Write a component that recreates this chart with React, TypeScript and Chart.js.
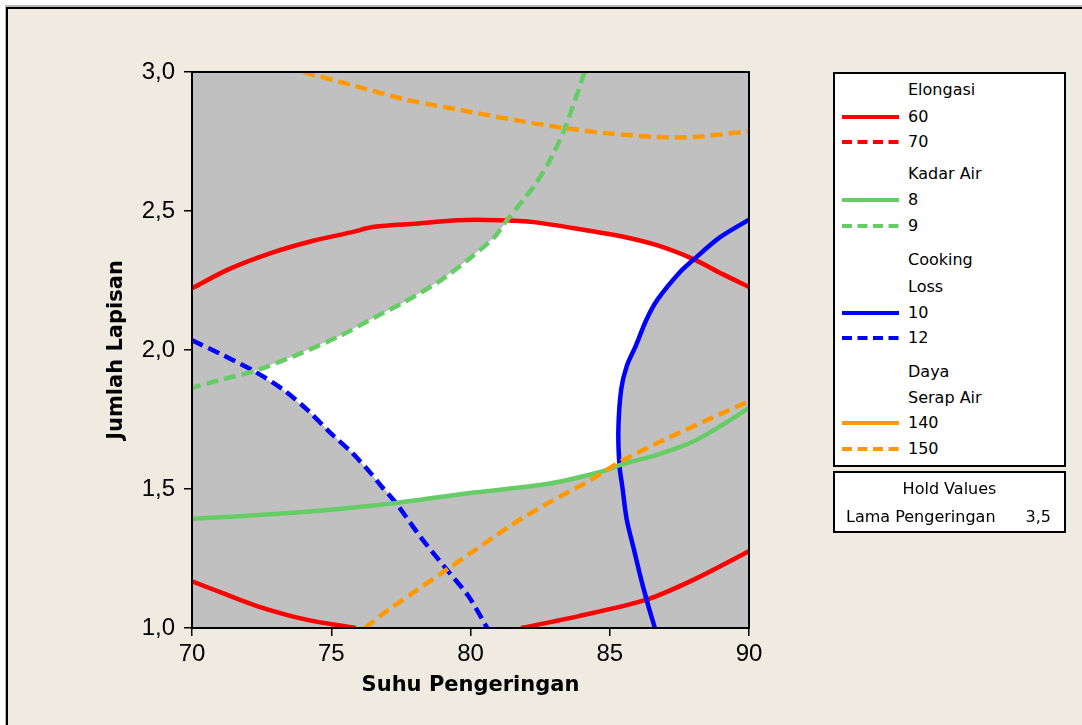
import React, { useEffect, useRef } from "react";
import { Chart, registerables } from "chart.js";

Chart.register(...registerables);

// ---- Data ----
const xTicks = [70, 75, 80, 85, 90];
const yTicks = [1.0, 1.5, 2.0, 2.5, 3.0];

// Elongasi = 60 (solid red), three branches
const elong60UpperX = [70, 71.31, 72.88, 74.32, 75.75, 76.54, 78.1, 79.54, 80.97, 82.28, 84.37, 85.41, 86.72, 88.02, 89.07, 90];
const elong60UpperY = [2.222, 2.29, 2.35, 2.392, 2.424, 2.443, 2.455, 2.467, 2.467, 2.46, 2.427, 2.409, 2.376, 2.326, 2.272, 2.227];
const elong60LeftX = [70, 71.06, 72.36, 74.06, 75.88];
const elong60LeftY = [1.168, 1.127, 1.078, 1.031, 1.0];
const elong60RightX = [81.82, 83.85, 86.32, 88.02, 90];
const elong60RightY = [1.0, 1.042, 1.102, 1.174, 1.276];

// Kadar Air = 8 (solid green), = 9 (dashed green)
const kadar8X = [70, 71.71, 74.32, 77.32, 80.19, 82.8, 84.76, 85.41, 86.72, 88.02, 89.07, 90];
const kadar8Y = [1.393, 1.402, 1.42, 1.45, 1.488, 1.519, 1.564, 1.588, 1.624, 1.672, 1.732, 1.792];
const kadar9X = [84.1, 83.72, 83.32, 82.8, 82.28, 81.9, 81.24, 80.84, 79.93, 78.89, 77.58, 76.54, 75.3, 73.66, 72.23, 71.06, 70];
const kadar9Y = [3.0, 2.889, 2.781, 2.673, 2.589, 2.541, 2.458, 2.404, 2.326, 2.248, 2.17, 2.116, 2.05, 1.978, 1.924, 1.894, 1.864];

// Cooking Loss = 10 (solid blue), = 12 (dashed blue)
const cook10X = [90, 88.94, 88.02, 87.5, 86.72, 86.32, 85.93, 85.61, 85.41, 85.31, 85.35, 85.45, 85.61, 85.87, 86.13, 86.39, 86.62];
const cook10Y = [2.469, 2.404, 2.326, 2.278, 2.182, 2.11, 2.014, 1.942, 1.858, 1.714, 1.582, 1.51, 1.39, 1.282, 1.174, 1.078, 1.0];
const cook12X = [70, 71.06, 72.23, 73.27, 74.19, 74.97, 75.75, 76.41, 76.8, 77.32, 78.23, 79.15, 79.93, 80.6];
const cook12Y = [2.035, 1.984, 1.924, 1.858, 1.78, 1.702, 1.63, 1.558, 1.51, 1.45, 1.324, 1.21, 1.114, 1.0];

// Daya Serap Air = 150 (dashed orange), two branches
const daya150UpperX = [74.0, 75.88, 77.58, 79.54, 81.5, 83.32, 84.76, 86.72, 88.02, 90];
const daya150UpperY = [3.0, 2.949, 2.903, 2.865, 2.829, 2.799, 2.781, 2.766, 2.766, 2.787];
const daya150LowerX = [76.21, 77.06, 78.1, 79.15, 80.19, 81.5, 82.8, 84.24, 85.41, 86.98, 88.54, 90];
const daya150LowerY = [1.0, 1.066, 1.138, 1.21, 1.282, 1.372, 1.45, 1.528, 1.6, 1.678, 1.75, 1.816];

// Feasible (white) region boundary
const feasibleX = [72.23, 73.66, 75.3, 76.54, 77.58, 78.89, 79.93, 80.84, 81.3, 82.28, 84.37, 85.41, 86.72, 88.04, 87.5, 86.72, 86.32, 85.93, 85.61, 85.41, 85.31, 85.36, 84.76, 82.8, 80.19, 77.35, 76.8, 76.41, 75.75, 74.97, 74.19, 73.27];
const feasibleY = [1.924, 1.978, 2.05, 2.116, 2.17, 2.248, 2.326, 2.404, 2.462, 2.46, 2.427, 2.409, 2.376, 2.326, 2.278, 2.182, 2.11, 2.014, 1.942, 1.858, 1.714, 1.588, 1.564, 1.519, 1.488, 1.452, 1.51, 1.558, 1.63, 1.702, 1.78, 1.858];

const RED = "#ff0000";
const GREEN = "#66cc66";
const BLUE = "#0000ff";
const ORANGE = "#ff9900";
const DASH = [12, 6];

type LegendRow = { kind: "head" | "line"; text: string; color?: string; dashed?: boolean; y: number };
const legendRows: LegendRow[] = [
  { kind: "head", text: "Elongasi", y: 90 },
  { kind: "line", text: "60", color: RED, dashed: false, y: 116.7 },
  { kind: "line", text: "70", color: RED, dashed: true, y: 141.7 },
  { kind: "head", text: "Kadar Air", y: 174 },
  { kind: "line", text: "8", color: GREEN, dashed: false, y: 200 },
  { kind: "line", text: "9", color: GREEN, dashed: true, y: 226 },
  { kind: "head", text: "Cooking", y: 260 },
  { kind: "head", text: "Loss", y: 286.7 },
  { kind: "line", text: "10", color: BLUE, dashed: false, y: 313.3 },
  { kind: "line", text: "12", color: BLUE, dashed: true, y: 338.3 },
  { kind: "head", text: "Daya", y: 371.7 },
  { kind: "head", text: "Serap Air", y: 397.7 },
  { kind: "line", text: "140", color: ORANGE, dashed: false, y: 423.3 },
  { kind: "line", text: "150", color: ORANGE, dashed: true, y: 449.3 },
];

function pts(xs: number[], ys: number[]) {
  return xs.map((x, i) => ({ x, y: ys[i] }));
}

function curve(xs: number[], ys: number[], color: string, dashed: boolean) {
  return {
    data: pts(xs, ys),
    borderColor: color,
    borderWidth: 4.5,
    borderDash: dashed ? DASH : [],
    pointRadius: 0,
    tension: 0.3,
    fill: false,
    order: 0,
    borderCapStyle: "butt" as const,
  };
}

const plotBg = {
  id: "plotBg",
  beforeDraw(chart: any) {
    const { ctx, chartArea: a } = chart;
    ctx.save();
    ctx.fillStyle = "#c0c0c0";
    ctx.fillRect(a.left, a.top, a.right - a.left, a.bottom - a.top);
    ctx.restore();
  },
  afterDraw(chart: any) {
    const { ctx, chartArea: a } = chart;
    ctx.save();
    ctx.strokeStyle = "#000";
    ctx.lineWidth = 2;
    ctx.strokeRect(a.left, a.top, a.right - a.left, a.bottom - a.top);
    ctx.restore();
  },
};

const FONT = "'DejaVu Sans', Verdana, sans-serif";
const TICK_FONT = "'Liberation Sans', Arial, sans-serif";

export default function App() {
  const ref = useRef<HTMLCanvasElement | null>(null);

  useEffect(() => {
    if (!ref.current) return;
    const chart = new Chart(ref.current, {
      type: "line",
      data: {
        datasets: [
          {
            data: pts(feasibleX, feasibleY),
            borderColor: "rgba(0,0,0,0)",
            borderWidth: 0,
            backgroundColor: "#ffffff",
            pointRadius: 0,
            tension: 0,
            fill: "shape",
            order: 10,
          } as any,
          curve(daya150UpperX, daya150UpperY, ORANGE, true),
          curve(daya150LowerX, daya150LowerY, ORANGE, true),
          curve(kadar8X, kadar8Y, GREEN, false),
          curve(kadar9X, kadar9Y, GREEN, true),
          curve(cook12X, cook12Y, BLUE, true),
          curve(cook10X, cook10Y, BLUE, false),
          curve(elong60UpperX, elong60UpperY, RED, false),
          curve(elong60LeftX, elong60LeftY, RED, false),
          curve(elong60RightX, elong60RightY, RED, false),
        ],
      },
      options: {
        responsive: false,
        animation: false,
        layout: { padding: { left: 0, top: 72, right: 1082 - 749, bottom: 0 } },
        plugins: { legend: { display: false }, tooltip: { enabled: false } },
        scales: {
          x: {
            type: "linear",
            min: 70,
            max: 90,
            afterBuildTicks: (s: any) => {
              s.ticks = xTicks.map((v) => ({ value: v }));
            },
            afterFit: (s: any) => {
              s.height = 725 - 628;
            },
            grid: { drawOnChartArea: false, drawTicks: true, tickLength: 8, color: "#000", lineWidth: 1.5 },
            border: { display: false },
            ticks: {
              color: "#000",
              padding: 4,
              font: { family: TICK_FONT, size: 24 },
              callback: (v: any) => String(v),
            },
            title: {
              display: true,
              text: "Suhu Pengeringan",
              color: "#000",
              font: { family: FONT, size: 21, weight: "bold" },
              padding: { top: 0, bottom: 27 },
            },
          },
          y: {
            type: "linear",
            min: 1,
            max: 3,
            afterBuildTicks: (s: any) => {
              s.ticks = yTicks.map((v) => ({ value: v }));
            },
            afterFit: (s: any) => {
              s.width = 192;
            },
            grid: { drawOnChartArea: false, drawTicks: true, tickLength: 8, color: "#000", lineWidth: 1.5 },
            border: { display: false },
            ticks: {
              color: "#000",
              padding: 9,
              font: { family: TICK_FONT, size: 24 },
              callback: (v: any) => Number(v).toFixed(1).replace(".", ","),
            },
            title: {
              display: true,
              text: "Jumlah Lapisan",
              color: "#000",
              font: { family: FONT, size: 21, weight: "bold" },
              padding: { top: 104, bottom: 0 },
            },
          },
        },
      },
      plugins: [plotBg],
    } as any);
    return () => chart.destroy();
  }, []);

  const txt: React.CSSProperties = {
    position: "absolute",
    fontFamily: FONT,
    fontSize: 16,
    color: "#000",
    lineHeight: "20px",
    whiteSpace: "nowrap",
    transform: "translateY(-50%)",
  };

  return (
    <div style={{ position: "absolute", left: 0, top: 0, width: 1082, height: 725, background: "#ffffff", overflow: "hidden" }}>
      <div style={{ position: "absolute", left: 5, top: 5, width: 1077, height: 720, background: "#b8b8b8" }} />
      <div style={{ position: "absolute", left: 6, top: 7, width: 1076, height: 718, background: "#000" }} />
      <div style={{ position: "absolute", left: 8, top: 9, width: 1074, height: 716, background: "#efebe0" }} />
      <canvas ref={ref} width={1082} height={725} style={{ position: "absolute", left: 0, top: 0 }} />
      <div style={{ position: "absolute", left: 833, top: 72, width: 229, height: 391, border: "2px solid #000", background: "#fff" }} />
      {legendRows.map((r, i) => (
        <React.Fragment key={i}>
          {r.kind === "line" && (
            <svg style={{ position: "absolute", left: 842, top: r.y - 4, width: 58, height: 8 }} width={58} height={8}>
              <line
                x1={0}
                y1={4}
                x2={57}
                y2={4}
                stroke={r.color}
                strokeWidth={4}
                strokeDasharray={r.dashed ? "10 5.5" : undefined}
              />
            </svg>
          )}
          <div style={{ ...txt, left: 908, top: r.y }}>{r.text}</div>
        </React.Fragment>
      ))}
      <div style={{ position: "absolute", left: 833, top: 471, width: 229, height: 58, border: "2px solid #000", background: "#fff" }} />
      <div style={{ ...txt, left: 835, width: 229, textAlign: "center", top: 489.3 }}>Hold Values</div>
      <div style={{ ...txt, left: 846, top: 516.7 }}>Lama Pengeringan</div>
      <div style={{ ...txt, left: 1000, width: 51, textAlign: "right", top: 516.7 }}>3,5</div>
    </div>
  );
}
